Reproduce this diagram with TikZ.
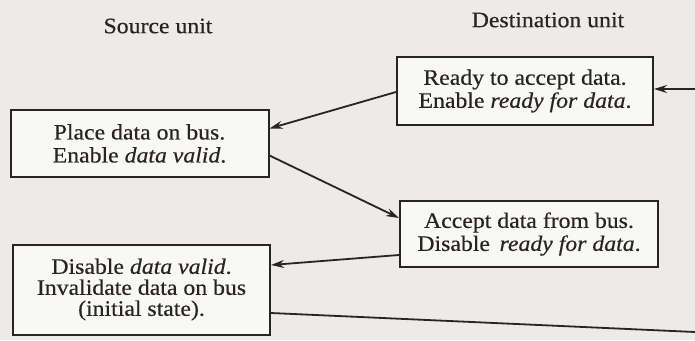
\documentclass[tikz,border=0pt]{standalone}
\usepackage{fontspec}
\setmainfont{Liberation Serif}[FakeStretch=1.08, FakeBold=0.4]
\usetikzlibrary{arrows.meta}
\definecolor{paper}{RGB}{236,235,233}
\definecolor{boxfill}{RGB}{248,248,246}
\definecolor{ink}{RGB}{40,36,34}
\tikzset{
  statebox/.style={draw=ink, line width=2pt, fill=boxfill, align=center,
    inner sep=0pt, text=ink, font=\fontsize{22}{23}\selectfont},
  heading/.style={text=ink, font=\fontsize{22}{23}\selectfont, inner sep=0pt},
  link/.style={draw=ink, line width=1.8pt, -{Stealth[length=13pt,width=8pt]}},
  plain/.style={draw=ink, line width=1.8pt}
}
\begin{document}
\begin{tikzpicture}[x=1pt,y=-1pt]
  % page area
  \fill[paper] (0,0) rectangle (695,340);
  \useasboundingbox (0,0) rectangle (695,340);

  % column headings
  \node[heading] (src) at (158,26) {Source unit};
  \node[heading] (dst) at (548,20) {Destination unit};

  % handshake states
  \node[statebox, minimum width=256pt, minimum height=68pt] (ready) at (525,91)
    {Ready to accept data.\\Enable \textit{ready for data}.};
  \node[statebox, minimum width=258pt, minimum height=67pt] (place) at (139.5,143.5)
    {Place data on bus.\\Enable \textit{data valid}.};
  \node[statebox, minimum width=258pt, minimum height=66pt] (accept) at (529,234)
    {Accept data from bus.\\Disable\, \textit{ready for data}.};
  \node[statebox, minimum width=257pt, minimum height=90pt,
        font=\fontsize{22}{21}\selectfont] (disable) at (141.5,289.5)
    {Disable \textit{data valid}.\\Invalidate data on bus\\(initial state).};

  % loose ends at the right margin
  \coordinate (loopin) at (695,89);
  \coordinate (loopout) at (695,332);

  % transitions
  \draw[link] (loopin) -- ([yshift=2pt]ready.east);
  \draw[link] ([yshift=-1pt]ready.west) -- ([yshift=15pt]place.east);
  \draw[link] ([yshift=-12pt]place.east) -- ([yshift=16pt]accept.west);
  \draw[link] ([yshift=-21pt]accept.west) -- ([yshift=24.5pt]disable.east);
  \draw[plain] ([yshift=-23.5pt]disable.east) -- (loopout);
\end{tikzpicture}
\end{document}
